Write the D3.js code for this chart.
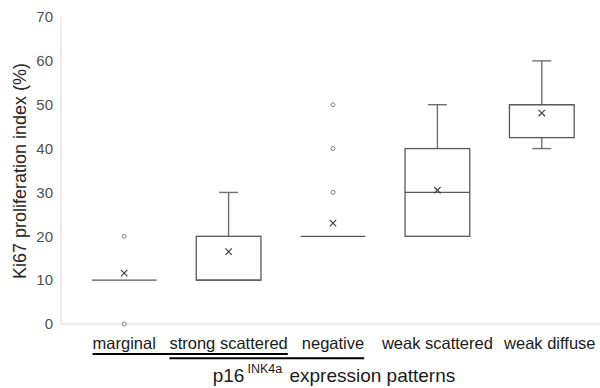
<!DOCTYPE html>
<html>
<head>
<meta charset="utf-8">
<script src="https://cdn.jsdelivr.net/npm/d3@7"></script>
<style>
  body { margin: 0; background: #fff; }
  svg { font-family: "Liberation Sans", Arial, sans-serif; }
</style>
</head>
<body>
<svg id="chart" width="600" height="388"></svg>
<script>
// box plot data
var categories = ["marginal", "strong scattered", "negative", "weak scattered", "weak diffuse"];
var q1 = [10, 10, 20, 20, 42.5];
var median = [10, 10, 20, 30, 50];
var q3 = [10, 20, 20, 40, 50];
var whiskerLow = [10, 10, 20, 20, 40];
var whiskerHigh = [10, 30, 20, 50, 60];
var means = [11.6, 16.5, 23, 30.5, 48.1];
var outliers = [[0, 20], [], [30, 40, 50], [], []];
var yTicks = [0, 10, 20, 30, 40, 50, 60, 70];
// groups marked by underlines below the category labels
var groupFirst = ["marginal", "strong scattered"];
var groupLast = ["strong scattered", "negative"];

var svg = d3.select("#chart");
var width = 600, height = 388;

var y = d3.scaleLinear().domain([0, 70]).range([324, 17]);
var x = d3.scaleBand().domain(categories).range([72, 594]).padding(0);
var bw = x.bandwidth();
var boxW = bw * 0.62;
var capW = 19;

function cx(c) { return x(c) + bw / 2; }

// axis lines
svg.append("line")
  .attr("x1", 61).attr("x2", 61)
  .attr("y1", y(70)).attr("y2", y(0))
  .attr("stroke", "#d9d9d9").attr("stroke-width", 1);
svg.append("line")
  .attr("x1", 61).attr("x2", width)
  .attr("y1", y(0)).attr("y2", y(0))
  .attr("stroke", "#d9d9d9").attr("stroke-width", 1);

// y tick labels
svg.selectAll(".ytick")
  .data(yTicks)
  .enter()
  .append("text")
  .attr("class", "ytick")
  .attr("x", 53)
  .attr("y", function (d) { return y(d); })
  .attr("dy", "0.35em")
  .attr("text-anchor", "end")
  .style("font-size", "15px")
  .attr("fill", "#505050")
  .text(function (d) { return d; });

// y title
svg.append("text")
  .attr("transform", "translate(26," + 171 + ") rotate(-90)")
  .attr("text-anchor", "middle")
  .style("font-size", "18px")
  .attr("fill", "#262626")
  .text("Ki67 proliferation index (%)");

var boxColor = "#595959";

categories.forEach(function (c, i) {
  var g = svg.append("g");
  var mx = cx(c);

  // upper whisker
  if (whiskerHigh[i] > q3[i]) {
    g.append("line")
      .attr("x1", mx).attr("x2", mx)
      .attr("y1", y(q3[i])).attr("y2", y(whiskerHigh[i]))
      .attr("stroke", "#707070").attr("stroke-width", 1.4);
    g.append("line")
      .attr("x1", mx - capW / 2).attr("x2", mx + capW / 2)
      .attr("y1", y(whiskerHigh[i])).attr("y2", y(whiskerHigh[i]))
      .attr("stroke", "#707070").attr("stroke-width", 1.4);
  }
  // lower whisker
  if (whiskerLow[i] < q1[i]) {
    g.append("line")
      .attr("x1", mx).attr("x2", mx)
      .attr("y1", y(q1[i])).attr("y2", y(whiskerLow[i]))
      .attr("stroke", "#707070").attr("stroke-width", 1.4);
    g.append("line")
      .attr("x1", mx - capW / 2).attr("x2", mx + capW / 2)
      .attr("y1", y(whiskerLow[i])).attr("y2", y(whiskerLow[i]))
      .attr("stroke", "#707070").attr("stroke-width", 1.4);
  }

  // box
  if (q3[i] > q1[i]) {
    g.append("rect")
      .attr("x", mx - boxW / 2)
      .attr("y", y(q3[i]))
      .attr("width", boxW)
      .attr("height", y(q1[i]) - y(q3[i]))
      .attr("fill", "#fff")
      .attr("stroke", boxColor).attr("stroke-width", 1.3);
  }
  // median
  g.append("line")
    .attr("x1", mx - boxW / 2).attr("x2", mx + boxW / 2)
    .attr("y1", y(median[i])).attr("y2", y(median[i]))
    .attr("stroke", boxColor).attr("stroke-width", 1.3);

  // mean marker
  var my = y(means[i]), s = 3.2;
  g.append("path")
    .attr("d", "M" + (mx - s) + "," + (my - s) + "L" + (mx + s) + "," + (my + s) +
               "M" + (mx - s) + "," + (my + s) + "L" + (mx + s) + "," + (my - s))
    .attr("stroke", "#404040").attr("stroke-width", 1.2).attr("fill", "none");

  // outliers
  g.selectAll("circle")
    .data(outliers[i])
    .enter()
    .append("circle")
    .attr("cx", mx)
    .attr("cy", function (d) { return y(d); })
    .attr("r", 2)
    .attr("fill", "#fff")
    .attr("stroke", "#7f7f7f").attr("stroke-width", 1);
});

// category labels (last one sits a bit right of its box in the original)
function labelX(d) {
  return cx(d) + (d === categories[categories.length - 1] ? 8 : 0);
}
var labels = svg.selectAll(".xlab")
  .data(categories)
  .enter()
  .append("text")
  .attr("class", "xlab")
  .attr("x", labelX)
  .attr("y", 348.5)
  .attr("text-anchor", "middle")
  .style("font-size", "16.5px")
  .attr("fill", "#1a1a1a")
  .text(function (d) { return d; });

var extents = {};
labels.each(function (d) {
  var w = this.getComputedTextLength();
  extents[d] = [labelX(d) - w / 2, labelX(d) + w / 2];
});

// group underlines
var underY = [354, 358.3];
groupFirst.forEach(function (f, i) {
  svg.append("line")
    .attr("x1", extents[f][0]).attr("x2", extents[groupLast[i]][1])
    .attr("y1", underY[i]).attr("y2", underY[i])
    .attr("stroke", "#000").attr("stroke-width", 2);
});

// x title
var xt = svg.append("text")
  .attr("x", 334)
  .attr("y", 382)
  .attr("text-anchor", "middle")
  .style("font-size", "19px")
  .attr("fill", "#1a1a1a");
xt.append("tspan").text("p16");
xt.append("tspan").attr("dx", 3).attr("dy", -9).style("font-size", "12.5px").text("INK4a");
xt.append("tspan").attr("dx", 2).attr("dy", 9).text(" expression patterns");
</script>
</body>
</html>
